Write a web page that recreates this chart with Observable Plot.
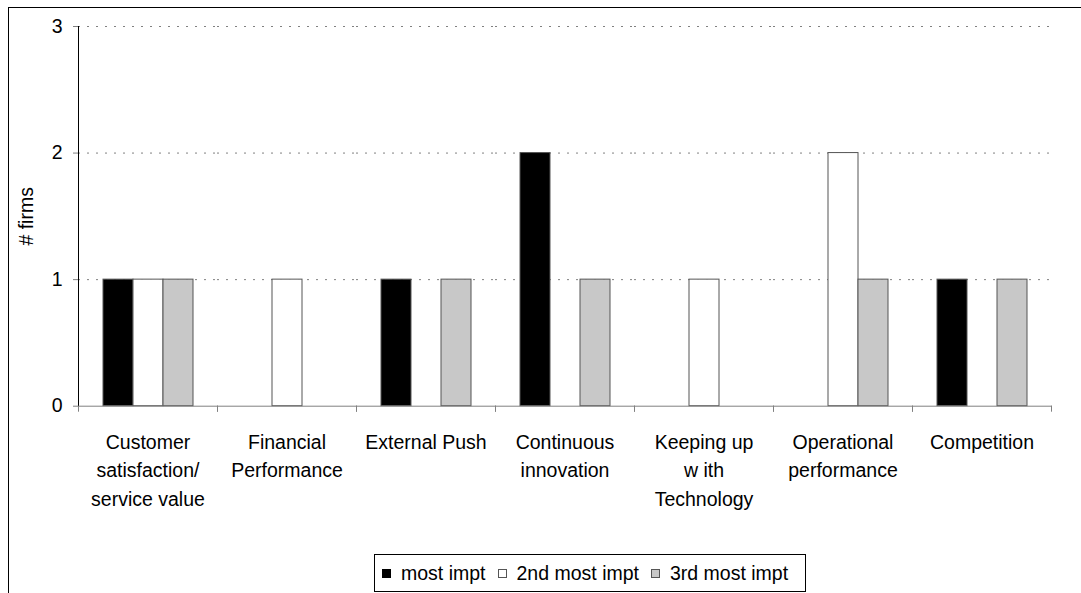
<!DOCTYPE html>
<html><head><meta charset="utf-8">
<script src="https://cdn.jsdelivr.net/npm/d3@7"></script>
<script src="https://cdn.jsdelivr.net/npm/@observablehq/plot@0.6"></script>
<style>
html,body{margin:0;padding:0;background:#fff;overflow:hidden;width:1081px;height:593px;font-family:"Liberation Sans",Arial,sans-serif;}
#border{position:absolute;left:8px;top:7px;width:1200px;height:700px;border-left:1px solid #000;border-top:1px solid #000;}
#chart{position:absolute;left:0;top:0;}
#legend{position:absolute;left:374px;top:554px;width:423px;height:36px;border:1px solid #000;display:flex;align-items:center;font-size:19.5px;background:#fff;padding-left:7px;box-sizing:content-box;}
.sw{width:9px;height:9px;box-sizing:border-box;display:inline-block;margin-right:10px;border:1px solid #555;}
.item{display:flex;align-items:center;margin-right:12px;white-space:nowrap;}
</style></head><body>
<div id="border"></div>
<div id="chart"></div>
<div id="legend"></div>
<script>
const categories = ["Customer satisfaction/ service value","Financial Performance","External Push","Continuous innovation","Keeping up with Technology","Operational performance","Competition"];
const categoryLabels = ["Customer\nsatisfaction/\nservice value","Financial\nPerformance","External Push","Continuous\ninnovation","Keeping up\nw ith\nTechnology","Operational\nperformance","Competition"];
const series = ["most impt","2nd most impt","3rd most impt"];
const mostImpt = [1,0,1,2,0,0,1];
const secondImpt = [1,1,0,0,1,2,0];
const thirdImpt = [1,0,1,1,0,1,1];
const seriesColors = ["#000000","#ffffff","#c8c8c8"];
const yTicks = [0,1,2,3];
const yLabel = "# firms";

const valuesBySeries = [mostImpt, secondImpt, thirdImpt];
const data = [];
categories.forEach((c, i) => series.forEach((s, j) => data.push({cat: c, series: s, value: valuesBySeries[j][i]})));
const labelOf = new Map(categories.map((c, i) => [c, categoryLabels[i]]));

const W = 1081, H = 553, mT = 26, mB = 147.3, mL = 76, mR = 28;
const frameH = H - mT - mB;
const font = '"Liberation Sans", Arial, sans-serif';

const chart = Plot.plot({
  width: W, height: H,
  marginTop: mT, marginBottom: mB, marginLeft: mL, marginRight: mR,
  style: {fontFamily: font, fontSize: "19.5px", background: "transparent", color: "#000"},
  fx: {domain: categories, padding: 0},
  x: {domain: series, paddingInner: 0, paddingOuter: 0.75, axis: null},
  y: {domain: [0, 3]},
  color: {domain: series, range: seriesColors},
  marks: [
    Plot.gridY(yTicks.filter(d => d > 0), {stroke: "#808080", strokeOpacity: 1, strokeDasharray: "2,7"}),
    Plot.barY(data, {fx: "cat", x: "series", y: "value", fill: "series", stroke: "#555", strokeWidth: 1, filter: d => d.value > 0}),
    Plot.frame({facet: "super", anchor: "bottom", stroke: "#808080"}),
    Plot.frame({facet: "super", anchor: "left", stroke: "#000"}),
    Plot.frame({anchor: "left", insetTop: frameH, insetBottom: -5, stroke: "#808080"}),
    Plot.frame({anchor: "right", insetTop: frameH, insetBottom: -5, stroke: "#808080"}),
    Plot.axisY({ticks: yTicks, tickFormat: "d", tickSize: 5, tickPadding: 11, fontSize: 19.5, stroke: "#808080",
      label: yLabel, labelAnchor: "center", labelArrow: "none", labelOffset: 59}),
    Plot.axisFx({anchor: "bottom", tickSize: 0, tickPadding: 22.5, fontSize: 19.5, lineHeight: 1.46, label: null,
      tickFormat: d => labelOf.get(d)})
  ]
});
document.getElementById("chart").appendChild(chart);

const legend = document.getElementById("legend");
series.forEach((s, i) => {
  const item = document.createElement("span");
  item.className = "item";
  const sw = document.createElement("span");
  sw.className = "sw";
  sw.style.background = seriesColors[i];
  if (i === 0) sw.style.borderColor = "#000";
  item.appendChild(sw);
  item.appendChild(document.createTextNode(s));
  legend.appendChild(item);
});
</script>
</body></html>
